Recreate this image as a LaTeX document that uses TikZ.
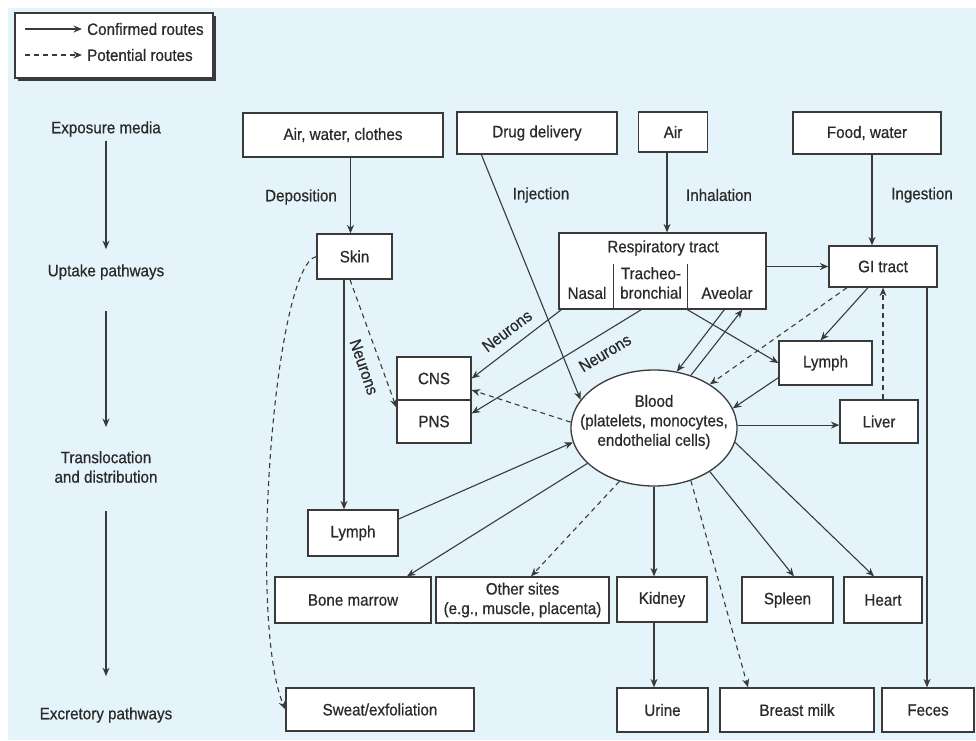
\documentclass[tikz,border=0pt]{standalone}
\usepackage{fontspec}
\setmainfont{Liberation Sans}[FakeStretch=0.92,FakeBold=0.6]
\usetikzlibrary{arrows.meta,shapes.geometric,shadows}
\definecolor{bgblue}{HTML}{E4F4FA}
\definecolor{ink}{HTML}{2A2A2A}
\definecolor{edge}{HTML}{3A3A3A}
\begin{document}
\begin{tikzpicture}[x=1pt,y=-1pt,
  every node/.style={font=\fontsize{16.5}{19.5}\selectfont, text=ink},
  box/.style={draw=edge, line width=1.3pt, fill=white, inner sep=1pt, align=center},
  lbl/.style={align=center, inner sep=1pt},
  conn/.style={draw=edge, line width=1.1pt, -{Stealth[length=8.5pt,width=7pt]}},
  pot/.style={conn, dash pattern=on 5pt off 4pt},
]
\useasboundingbox (0,0) rectangle (976,740);
\fill[white] (0,0) rectangle (976,740);
\fill[bgblue] (8,8) rectangle (976,740);

% legend
\node[box, minimum width=198pt, minimum height=65pt,
  drop shadow={shadow xshift=2.5pt, shadow yshift=-2.5pt, fill=edge, opacity=1}] (legend) at (114,45.5) {};
\coordinate (lg1) at (25,29);
\coordinate (lg2) at (25,55);
\node[anchor=west, inner sep=0pt] (lgt1) at (87,29) {Confirmed routes};
\node[anchor=west, inner sep=0pt] (lgt2) at (87,55) {Potential routes};
\draw[conn, shorten >=5pt] (lg1) -- (lgt1.west);
\draw[pot, shorten >=5pt] (lg2) -- (lgt2.west);

% left column
\node[lbl] (expo) at (106,129) {Exposure media};
\node[lbl] (uptake) at (106,272) {Uptake pathways};
\node[lbl] (transl) at (106,467) {Translocation\\and distribution};
\node[lbl] (excr) at (106,715) {Excretory pathways};
\draw[conn, shorten <=3pt, shorten >=14pt] (expo) -- (uptake);
\draw[conn, shorten <=30pt, shorten >=23pt] (uptake) -- (transl);
\draw[conn, shorten <=27pt, shorten >=30pt] (transl) -- (excr);

% exposure media
\node[box, minimum width=200pt, minimum height=44pt] (airwc) at (343,135) {Air, water, clothes};
\node[box, minimum width=160pt, minimum height=42pt] (drug) at (537,133) {Drug delivery};
\node[box, minimum width=69pt, minimum height=40pt] (air) at (673,132) {Air};
\node[box, minimum width=148pt, minimum height=42pt] (food) at (867,133) {Food, water};

\node[lbl] (depo) at (301,197) {Deposition};
\node[lbl] (inj) at (541,195) {Injection};
\node[lbl] (inh) at (719,195) {Inhalation};
\node[lbl] (ing) at (922,195) {Ingestion};

% uptake
\node[box, minimum width=75pt, minimum height=45pt] (skin) at (354.5,256.5) {Skin};
\node[box, minimum width=207pt, minimum height=76pt] (resp) at (662.5,271) {};
\node[lbl] (resptitle) at (663,248) {Respiratory tract};
\node[lbl] (nasal) at (587,293) {Nasal};
\node[lbl] (trach) at (651,283) {Tracheo-\\bronchial};
\node[lbl] (aveo) at (727,293) {Aveolar};
\draw[draw=edge, line width=1.1pt] ([xshift=55pt]resp.south west) -- ++(0,-46);
\draw[draw=edge, line width=1.1pt] ([xshift=129pt]resp.south west) -- ++(0,-46);
\node[box, minimum width=108pt, minimum height=41pt] (gi) at (883,266.5) {GI tract};

% translocation
\node[box, minimum width=74pt, minimum height=43pt] (cns) at (434,378.5) {CNS};
\node[box, minimum width=74pt, minimum height=43pt] (pns) at (434,421.5) {PNS};
\node[draw=edge, line width=1.3pt, fill=white, ellipse, minimum width=166pt, minimum height=116pt, inner sep=0pt] (blood) at (654,428) {};
\node[lbl] (bloodtxt) at (654,422) {Blood\\(platelets, monocytes,\\endothelial cells)};
\node[box, minimum width=93pt, minimum height=44pt] (lymphR) at (825.5,363) {Lymph};
\node[box, minimum width=78pt, minimum height=43pt] (liver) at (879,421.5) {Liver};
\node[box, minimum width=90pt, minimum height=46pt] (lymphL) at (353,533) {Lymph};

% organs
\node[box, minimum width=156pt, minimum height=46pt] (bone) at (353,600) {Bone marrow};
\node[box, minimum width=173pt, minimum height=46pt] (other) at (522.5,600) {Other sites\\(e.g., muscle, placenta)};
\node[box, minimum width=90pt, minimum height=45pt] (kidney) at (662,599.5) {Kidney};
\node[box, minimum width=91pt, minimum height=46pt] (spleen) at (787.5,600) {Spleen};
\node[box, minimum width=78pt, minimum height=46pt] (heart) at (883,600) {Heart};

% excretion
\node[box, minimum width=188pt, minimum height=43pt] (sweat) at (380,709.5) {Sweat/exfoliation};
\node[box, minimum width=91pt, minimum height=44pt] (urine) at (662.5,710) {Urine};
\node[box, minimum width=154pt, minimum height=44pt] (milk) at (797,710) {Breast milk};
\node[box, minimum width=92pt, minimum height=44pt] (feces) at (928,710) {Feces};

% neurons labels
\node[lbl, rotate=37] (neu1) at (507,331) {Neurons};
\node[lbl, rotate=31] (neu2) at (605,353) {Neurons};
\node[lbl, rotate=-71] (neu3) at (364,367) {Neurons};

% connectors
\draw[conn] ([xshift=-4pt]skin.north |- airwc.south) -- ([xshift=-4pt]skin.north);
\draw[conn] ([xshift=25pt]drug.south west) -- (blood.159);
\draw[conn] ([xshift=-6pt]air.south) -- ([xshift=-6pt]air.south |- resp.north);
\draw[conn] ([xshift=5pt]food.south) -- ([xshift=5pt]food.south |- gi.north);
\draw[conn] (resp.east |- gi.west) -- (gi.west);

\draw[conn] ([xshift=3pt]resp.south west) -- (cns.east);
\draw[conn] ([xshift=83pt]resp.south west) -- ([yshift=8pt]pns.east);
\draw[conn] ([xshift=129pt]resp.south west) -- (lymphR.west);
\draw[conn] ([xshift=166pt]resp.south west) -- (blood.68);
\draw[conn] (blood.55) -- ([xshift=184pt]resp.south west);

\draw[pot] ([xshift=-36pt]gi.south) -- (blood.38);
\draw[conn] ([xshift=-15pt]gi.south) -- ([xshift=-5pt]lymphR.north);
\draw[conn] ([yshift=8pt]lymphR.south west) -- (blood.14);
\draw[conn] (blood.2) -- (blood.2 -| liver.west);
\draw[pot] (gi.south |- liver.north) -- (gi.south);
\draw[conn] ([xshift=44pt]gi.south) -- ([xshift=44pt]gi.south |- feces.north);

\draw[pot] (blood.176) -- ([yshift=-11.5pt]cns.east);
\draw[pot] ([xshift=-4.5pt]skin.south) -- ([yshift=14pt]pns.west);
\draw[conn] ([xshift=-10.5pt]skin.south) -- ([xshift=-10.5pt]skin.south |- lymphL.north);
\draw[pot] (skin.west) .. controls +(-42,8.5) and +(-38,-89.5) .. (sweat.west);

\draw[conn] ([yshift=14pt]lymphL.east) -- (blood.-170);
\draw[conn] (blood.-152) -- ([xshift=54pt]bone.north);
\draw[pot] (blood.-123) -- ([xshift=8.5pt]other.north);
\draw[conn] (blood.south) -- (blood.south |- kidney.north);
\draw[conn] ([xshift=-8pt]kidney.south) -- ([xshift=-8pt]kidney.south |- urine.north);
\draw[pot] (blood.-55) -- ([xshift=-49pt]milk.north);
\draw[conn] (blood.-38) -- ([xshift=6.5pt]spleen.north);
\draw[conn] (blood.-10.5) -- ([xshift=-9pt]heart.north);
\end{tikzpicture}
\end{document}
